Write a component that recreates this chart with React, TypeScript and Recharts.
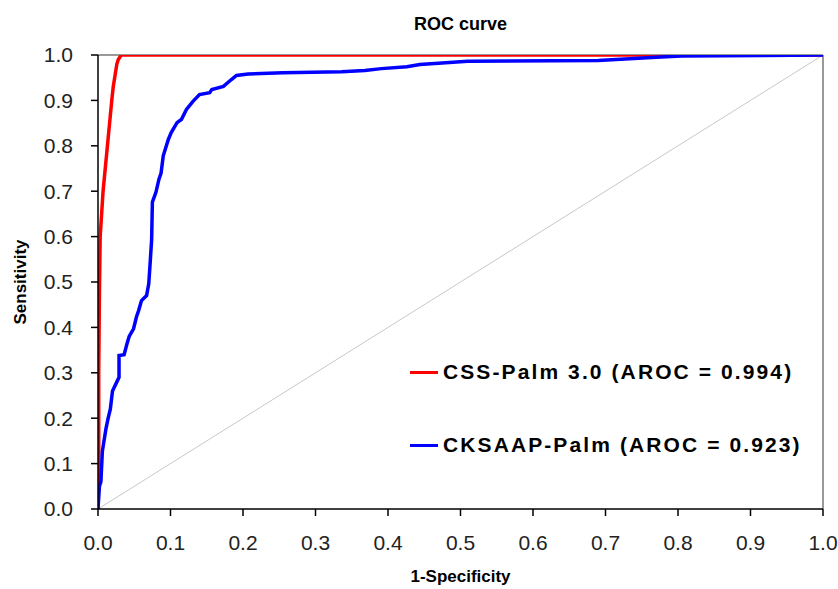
import React from 'react';
import { LineChart, Line, XAxis, YAxis, ReferenceLine, Label } from 'recharts';

const axisTicks = [0, 0.1, 0.2, 0.3, 0.4, 0.5, 0.6, 0.7, 0.8, 0.9, 1.0];

const cssFpr = [0, 0, 0.001, 0.001, 0.002, 0.003, 0.005, 0.007, 0.010, 0.013, 0.016, 0.019, 0.021, 0.023, 0.026, 0.028, 0.032, 1.0];
const cssTpr = [0, 0.06, 0.1, 0.3, 0.48, 0.6, 0.65, 0.7, 0.75, 0.8, 0.85, 0.9, 0.93, 0.95, 0.98, 0.99, 1.0, 1.0];

const ckFpr = [0, 0.002, 0.004, 0.006, 0.011, 0.014, 0.017, 0.02, 0.026, 0.029, 0.029, 0.036, 0.04, 0.043, 0.049, 0.053, 0.056, 0.06, 0.067, 0.07, 0.0717, 0.074, 0.075, 0.08, 0.084, 0.087, 0.09, 0.097, 0.101, 0.109, 0.115, 0.122, 0.131, 0.14, 0.154, 0.157, 0.173, 0.184, 0.191, 0.207, 0.255, 0.336, 0.368, 0.391, 0.426, 0.444, 0.51, 0.69, 0.727, 0.77, 0.805, 1.0];
const ckTpr = [0, 0.05, 0.06, 0.127, 0.177, 0.2, 0.22, 0.26, 0.28, 0.29, 0.338, 0.34, 0.364, 0.38, 0.397, 0.423, 0.437, 0.459, 0.47, 0.496, 0.536, 0.594, 0.676, 0.698, 0.726, 0.74, 0.778, 0.814, 0.829, 0.851, 0.858, 0.88, 0.898, 0.913, 0.917, 0.924, 0.931, 0.946, 0.955, 0.958, 0.961, 0.963, 0.966, 0.97, 0.974, 0.979, 0.986, 0.988, 0.991, 0.995, 0.998, 1.0];

const cssData = cssFpr.map((x, i) => ({ x, y: cssTpr[i] }));
const ckData = ckFpr.map((x, i) => ({ x, y: ckTpr[i] }));

const seriesNames = ['CSS-Palm 3.0 (AROC = 0.994)', 'CKSAAP-Palm (AROC = 0.923)'];
const seriesColors = ['#ff0000', '#0000ff'];

const fmt = (v: number) => v.toFixed(1);

export default function App() {
  return (
    <div style={{ position: 'absolute', left: 0, top: 0, width: 838, height: 589, background: '#fff', fontFamily: '"Liberation Sans", Arial, sans-serif' }}>
      <div style={{ position: 'absolute', left: 0, width: 921, top: 14, textAlign: 'center', fontWeight: 'bold', fontSize: 18, color: '#000' }}>ROC curve</div>
      <LineChart width={838} height={589} margin={{ top: 55, right: 15, bottom: 2, left: 8 }}>
        <XAxis
          type="number"
          dataKey="x"
          domain={[0, 1]}
          ticks={axisTicks}
          tickFormatter={fmt}
          allowDataOverflow
          height={78}
          tickSize={7}
          tickMargin={19}
          stroke="#000"
          strokeWidth={1.5}
          tick={{ fill: '#222', fontSize: 21, fontFamily: '"Liberation Sans", Arial' }}
        >
          <Label value="1-Specificity" position="insideBottom" offset={5} style={{ fontWeight: 'bold', fontSize: 17, fill: '#000', fontFamily: '"Liberation Sans", Arial' }} />
        </XAxis>
        <YAxis
          type="number"
          dataKey="y"
          domain={[0, 1]}
          ticks={axisTicks}
          tickFormatter={fmt}
          allowDataOverflow
          width={90}
          tickSize={7}
          tickMargin={18}
          stroke="#000"
          strokeWidth={1.5}
          tick={{ fill: '#222', fontSize: 21, fontFamily: '"Liberation Sans", Arial' }}
        >
          <Label value="Sensitivity" angle={-90} position="insideLeft" offset={12} style={{ fontWeight: 'bold', fontSize: 17, fill: '#000', textAnchor: 'middle', fontFamily: '"Liberation Sans", Arial' }} />
        </YAxis>
        <ReferenceLine y={1} stroke="#999" strokeWidth={2} />
        <ReferenceLine x={1} stroke="#999" strokeWidth={2} />
        <ReferenceLine segment={[{ x: 0, y: 0 }, { x: 1, y: 1 }]} stroke="#c8c8c8" strokeWidth={1} />
        <Line data={cssData} dataKey="y" type="linear" stroke={seriesColors[0]} strokeWidth={3.5} dot={false} isAnimationActive={false} />
        <Line data={ckData} dataKey="y" type="linear" stroke={seriesColors[1]} strokeWidth={3.5} dot={false} isAnimationActive={false} />
      </LineChart>
      {seriesNames.map((name, i) => (
        <div key={name} style={{ position: 'absolute', left: 410, top: 360 + i * 73, display: 'flex', alignItems: 'center', fontWeight: 'bold', fontSize: 21, letterSpacing: 2.1, color: '#000' }}>
          <span style={{ display: 'inline-block', width: 28, height: 3, background: seriesColors[i], marginRight: 5 }} />
          <span>{name}</span>
        </div>
      ))}
    </div>
  );
}
